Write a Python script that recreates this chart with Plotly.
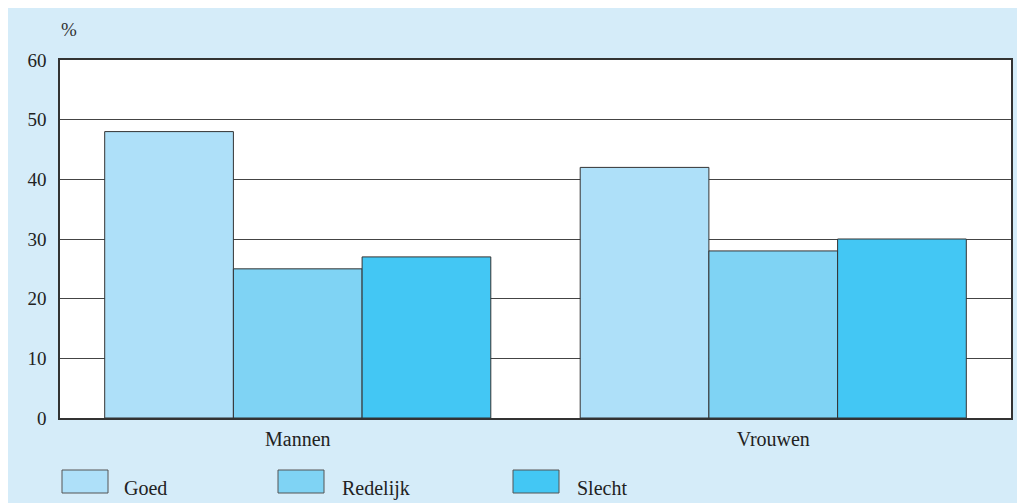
import plotly.graph_objects as go

categories = ["Mannen", "Vrouwen"]
series_names = ["Goed", "Redelijk", "Slecht"]
goed = [48, 42]
redelijk = [25, 28]
slecht = [27, 30]
y_ticks = [0, 10, 20, 30, 40, 50, 60]

series_values = [goed, redelijk, slecht]
colors = ["#aee0f9", "#7fd3f4", "#43c7f4"]

OFF = 8  # page body margin offset in the screenshot
W, H = 1025, 503
ML, MT = 60 - OFF, 60 - OFF
MR = W - (1011 - OFF)
MB = H - (418 - OFF)
PW, PH = W - ML - MR, H - MT - MB


def px_to_paper_x(px):
    return (px - OFF - ML) / PW


def px_to_paper_y(py):
    return (H - MB - (py - OFF)) / PH


FONT = "Liberation Serif"

fig = go.Figure()
for name, vals, col in zip(series_names, series_values, colors):
    fig.add_trace(go.Bar(
        x=categories, y=vals, name=name,
        marker=dict(color=col, line=dict(color="#333333", width=1)),
        showlegend=False,
    ))

shapes = []
annotations = [
    dict(text="%", xref="paper", yref="paper", x=px_to_paper_x(59), y=px_to_paper_y(30),
         xanchor="left", yanchor="middle", showarrow=False,
         font=dict(family=FONT, size=19, color="#333333")),
]

legend_box_x = [62, 278, 513]
legend_text_x = [122, 340, 575]
for name, col, bx, tx in zip(series_names, colors, legend_box_x, legend_text_x):
    shapes.append(dict(type="rect", xref="paper", yref="paper",
                       x0=px_to_paper_x(bx), x1=px_to_paper_x(bx + 46),
                       y0=px_to_paper_y(493), y1=px_to_paper_y(470),
                       fillcolor=col, line=dict(color="#555555", width=1)))
    annotations.append(dict(text=name, xref="paper", yref="paper",
                            x=px_to_paper_x(tx), y=px_to_paper_y(488),
                            xanchor="left", yanchor="middle", showarrow=False,
                            font=dict(family=FONT, size=20, color="#222222")))

fig.update_layout(
    width=W, height=H,
    margin=dict(l=ML, r=MR, t=MT, b=MB, pad=0),
    paper_bgcolor="#d5ecf9", plot_bgcolor="white",
    barmode="group", bargap=0.188, bargroupgap=0,
    shapes=shapes, annotations=annotations,
    font=dict(family=FONT, size=19, color="#222222"),
    xaxis=dict(showline=True, mirror=True, linecolor="#333333", linewidth=1.5,
               showgrid=False, ticks="outside", ticklen=2, tickcolor="rgba(0,0,0,0)",
               tickfont=dict(family=FONT, size=20, color="#222222")),
    yaxis=dict(range=[0, 60], tickvals=y_ticks, showline=True, mirror=True,
               linecolor="#333333", linewidth=1.5, showgrid=True, gridcolor="#444444",
               gridwidth=1, zeroline=False, ticks="outside", ticklen=8,
               tickcolor="rgba(0,0,0,0)",
               tickfont=dict(family=FONT, size=19, color="#222222")),
)

fig.write_html("out.html", post_script="document.documentElement.style.overflow='hidden';document.body.style.overflow='hidden';")
